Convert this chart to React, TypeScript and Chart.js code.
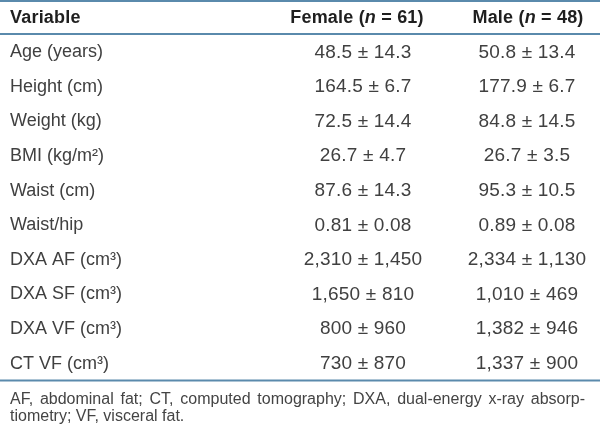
import React, { useEffect, useRef } from "react";
import { Chart, registerables } from "chart.js";

Chart.register(...registerables);

const variables = [
  "Age (years)",
  "Height (cm)",
  "Weight (kg)",
  "BMI (kg/m²)",
  "Waist (cm)",
  "Waist/hip",
  "DXA AF (cm³)",
  "DXA SF (cm³)",
  "DXA VF (cm³)",
  "CT VF (cm³)",
];
const decimals = [1, 1, 1, 1, 1, 2, 0, 0, 0, 0];
const femaleMean = [48.5, 164.5, 72.5, 26.7, 87.6, 0.81, 2310, 1650, 800, 730];
const femaleSD = [14.3, 6.7, 14.4, 4.7, 14.3, 0.08, 1450, 810, 960, 870];
const maleMean = [50.8, 177.9, 84.8, 26.7, 95.3, 0.89, 2334, 1010, 1382, 1337];
const maleSD = [13.4, 6.7, 14.5, 3.5, 10.5, 0.08, 1130, 469, 946, 900];
const headerVariable = "Variable";
const headerFemale = { label: "Female", n: 61 };
const headerMale = { label: "Male", n: 48 };
const footnoteLines = [
  "AF, abdominal fat; CT, computed tomography; DXA, dual-energy x-ray absorp-",
  "tiometry; VF, visceral fat.",
];

// layout (pixel-space columns on a 0..600 linear axis)
const COL_VAR = 10;
const COL_FEMALE = 363;
const COL_MALE = 527;
const HEAD_FEMALE = 357;
const HEAD_MALE = 528;
const FOOT_RIGHT = 585;
const FONT = "'Liberation Sans', Arial, Helvetica, sans-serif";
const RULE = "#5a8aac";

const fmt = (v: number, d: number) =>
  v.toLocaleString("en-US", { minimumFractionDigits: d, maximumFractionDigits: d });

function drawHeader(ctx: CanvasRenderingContext2D, cx: number, y: number, label: string, n: number) {
  const bold = `bold 18px ${FONT}`;
  const boldIt = `italic bold 18px ${FONT}`;
  const parts: [string, string][] = [
    [`${label} (`, bold],
    ["n", boldIt],
    [` = ${n})`, bold],
  ];
  let w = 0;
  for (const [t, f] of parts) {
    ctx.font = f;
    w += ctx.measureText(t).width;
  }
  let x = cx - w / 2;
  ctx.textAlign = "left";
  for (const [t, f] of parts) {
    ctx.font = f;
    ctx.fillText(t, x, y);
    x += ctx.measureText(t).width;
  }
}

function drawJustified(ctx: CanvasRenderingContext2D, text: string, x0: number, x1: number, y: number) {
  const words = text.split(" ");
  const total = words.reduce((s, w) => s + ctx.measureText(w).width, 0);
  const gap = (x1 - x0 - total) / (words.length - 1);
  let x = x0;
  for (const w of words) {
    ctx.fillText(w, x, y);
    x += ctx.measureText(w).width + gap;
  }
}

const tablePlugin = {
  id: "tablePlugin",
  afterDraw(chart: any) {
    const ctx: any = chart.ctx;
    const xs = chart.scales.x;
    const ys = chart.scales.y;
    const area = chart.chartArea;
    ctx.save();
    // rules
    ctx.strokeStyle = RULE;
    ctx.lineWidth = 2;
    const rules = [1, area.top - 1, area.bottom - 0.5];
    for (const r of rules) {
      ctx.beginPath();
      ctx.moveTo(0, r);
      ctx.lineTo(chart.width, r);
      ctx.stroke();
    }
    // header
    ctx.fillStyle = "#1f1f1f";
    ctx.textBaseline = "middle";
    ctx.letterSpacing = "0.2px";
    ctx.font = `bold 18px ${FONT}`;
    ctx.textAlign = "left";
    const hy = area.top / 2 + 0.5;
    ctx.fillText(headerVariable, xs.getPixelForValue(COL_VAR), hy);
    drawHeader(ctx, xs.getPixelForValue(HEAD_FEMALE), hy, headerFemale.label, headerFemale.n);
    drawHeader(ctx, xs.getPixelForValue(HEAD_MALE), hy, headerMale.label, headerMale.n);
    // body
    ctx.fillStyle = "#404040";
    ctx.font = `18px ${FONT}`;
    ctx.letterSpacing = "0px";
    variables.forEach((v, i) => {
      ctx.textAlign = "left";
      ctx.fillText(v, xs.getPixelForValue(COL_VAR), ys.getPixelForValue(i));
    });
    ctx.font = `19px ${FONT}`;
    ctx.letterSpacing = "0.2px";
    chart.data.datasets.forEach((ds: any, di: number) => {
      const meta = chart.getDatasetMeta(di);
      const means = di === 0 ? femaleMean : maleMean;
      const sds = di === 0 ? femaleSD : maleSD;
      meta.data.forEach((el: any, i: number) => {
        ctx.textAlign = "center";
        ctx.fillText(`${fmt(means[i], decimals[i])} ± ${fmt(sds[i], decimals[i])}`, el.x, el.y);
      });
    });
    // footnote
    ctx.fillStyle = "#444444";
    ctx.font = `16px ${FONT}`;
    ctx.letterSpacing = "0px";
    ctx.textAlign = "left";
    ctx.textBaseline = "alphabetic";
    drawJustified(ctx, footnoteLines[0], xs.getPixelForValue(COL_VAR), xs.getPixelForValue(FOOT_RIGHT), 404);
    ctx.fillText(footnoteLines[1], xs.getPixelForValue(COL_VAR), 421);
    ctx.restore();
  },
};

export default function App() {
  const ref = useRef<HTMLCanvasElement>(null);
  useEffect(() => {
    document.body.style.margin = "0";
    const chart = new Chart(ref.current!, {
      type: "scatter",
      data: {
        datasets: [
          {
            label: "Female",
            data: variables.map((v) => ({ x: COL_FEMALE, y: v })) as any,
            pointRadius: 0,
          },
          {
            label: "Male",
            data: variables.map((v) => ({ x: COL_MALE, y: v })) as any,
            pointRadius: 0,
          },
        ],
      },
      options: {
        animation: false,
        responsive: false,
        events: [],
        layout: { padding: { top: 35, bottom: 47, left: 0, right: 0 } },
        plugins: { legend: { display: false }, tooltip: { enabled: false } },
        scales: {
          x: { type: "linear", min: 0, max: 600, display: false },
          y: { type: "category", labels: variables, offset: true, display: false },
        },
      },
      plugins: [tablePlugin],
    });
    return () => chart.destroy();
  }, []);
  return (
    <div style={{ width: 600, height: 428, background: "#fff" }}>
      <canvas ref={ref} width={600} height={428} style={{ display: "block" }} />
    </div>
  );
}
